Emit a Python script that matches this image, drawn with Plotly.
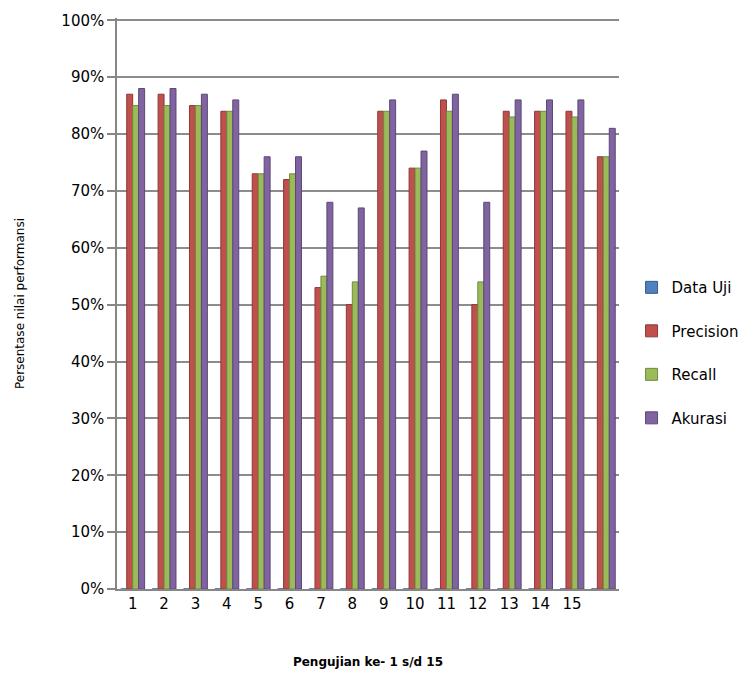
import plotly.graph_objects as go

groups = list(range(1, 17))
tick_labels = [str(i) for i in range(1, 16)]
data_uji = [0] * 16
precision = [0.87, 0.87, 0.85, 0.84, 0.73, 0.72, 0.53, 0.50, 0.84, 0.74, 0.86, 0.50, 0.84, 0.84, 0.84, 0.76]
recall =    [0.85, 0.85, 0.85, 0.84, 0.73, 0.73, 0.55, 0.54, 0.84, 0.74, 0.84, 0.54, 0.83, 0.84, 0.83, 0.76]
akurasi =   [0.88, 0.88, 0.87, 0.86, 0.76, 0.76, 0.68, 0.67, 0.86, 0.77, 0.87, 0.68, 0.86, 0.86, 0.86, 0.81]

series = [
    ("Data Uji", data_uji, "#4F81BD", "#385D8A"),
    ("Precision", precision, "#C0504D", "#8C3836"),
    ("Recall", recall, "#9BBB59", "#71893F"),
    ("Akurasi", akurasi, "#8064A2", "#5C4776"),
]

fig = go.Figure()
for name, vals, col, edge in series:
    fig.add_trace(go.Bar(
        x=groups, y=vals, name=name, legendgroup=name,
        marker=dict(color=col, line=dict(color=edge, width=1)),
    ))

fig.update_layout(
    width=756, height=679,
    margin=dict(l=117, r=136, t=16, b=89),
    paper_bgcolor="white", plot_bgcolor="white",
    barmode="group", bargap=0.24, bargroupgap=0,
    font=dict(family="DejaVu Sans", size=15, color="#000000"),
    legend=dict(x=1.025, xanchor="left", y=0.414, yanchor="middle",
                font=dict(size=15), tracegroupgap=21, traceorder="grouped"),
    xaxis=dict(
        range=[0.5, 16.5], tickmode="array", tickvals=groups[:15], ticktext=tick_labels,
        showgrid=False, showline=True, linecolor="#868686", linewidth=1.5,
        ticks="", ticklabelstandoff=0,
        title=dict(text="<b>Pengujian ke- 1 s/d 15</b>", font=dict(size=12), standoff=46),
    ),
    yaxis=dict(
        range=[0, 1.004], tickvals=[i / 10 for i in range(11)], tickformat=".0%",
        showgrid=True, gridcolor="#8C8C8C", gridwidth=1.5,
        showline=True, linecolor="#868686", linewidth=1.5,
        ticks="outside", ticklen=8, tickcolor="#868686", tickwidth=1.5,
        title=dict(text="Persentase nilai performansi", font=dict(size=12), standoff=34),
    ),
)

fig.write_html("out.html")
